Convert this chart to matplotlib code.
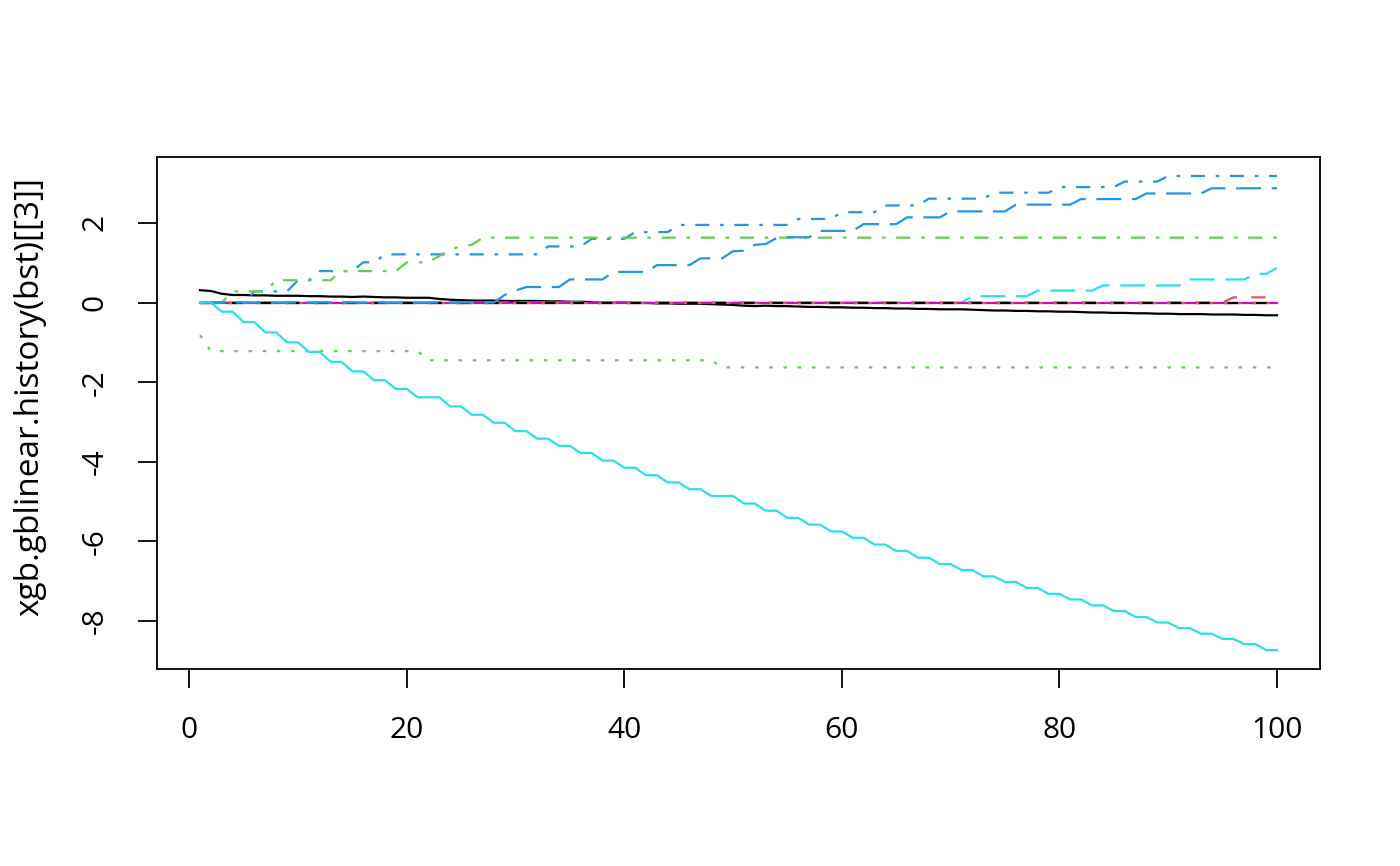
import matplotlib
matplotlib.use("Agg")
import matplotlib.pyplot as plt
import numpy as np

plt.rcParams['font.family'] = ['Open Sans', 'DejaVu Sans']
plt.rcParams['axes.unicode_minus'] = False

# iteration index
iters = list(range(1, 101))

# coefficient history, one list per column
col1 = [0.31, 0.29, 0.22, 0.19, 0.19, 0.18, 0.18, 0.17, 0.17, 0.17,
        0.16, 0.16, 0.15, 0.15, 0.14, 0.15, 0.14, 0.13, 0.13, 0.12,
        0.12, 0.12, 0.09, 0.07, 0.06, 0.05, 0.05, 0.05, 0.04, 0.04,
        0.04, 0.04, 0.03, 0.03, 0.02, 0.02, 0.01, 0.01, 0.00, 0.00,
        -0.01, -0.01, -0.02, -0.02, -0.03, -0.03, -0.03, -0.04, -0.05, -0.06,
        -0.08, -0.09, -0.08, -0.09, -0.09, -0.10, -0.11, -0.11, -0.12, -0.12,
        -0.13, -0.13, -0.14, -0.14, -0.15, -0.15, -0.16, -0.16, -0.17, -0.17,
        -0.17, -0.18, -0.19, -0.20, -0.20, -0.21, -0.21, -0.22, -0.22, -0.23,
        -0.23, -0.24, -0.25, -0.25, -0.26, -0.26, -0.27, -0.27, -0.28, -0.28,
        -0.29, -0.29, -0.29, -0.30, -0.30, -0.30, -0.31, -0.31, -0.32, -0.32]

col2 = [0.00, 0.00, 0.00, 0.00, 0.00, 0.00, 0.00, 0.00, 0.00, 0.00,
        0.00, 0.00, 0.00, 0.00, 0.00, 0.00, 0.00, 0.00, 0.00, 0.00,
        0.00, 0.00, 0.00, 0.00, 0.00, 0.00, 0.00, 0.00, 0.00, 0.00,
        0.00, 0.00, 0.00, 0.00, 0.00, 0.00, 0.00, 0.00, 0.00, 0.00,
        0.00, 0.00, 0.00, 0.00, 0.00, 0.00, 0.00, 0.00, 0.00, 0.00,
        0.00, 0.00, 0.00, 0.00, 0.00, 0.00, 0.00, 0.00, 0.00, 0.00,
        0.00, 0.00, 0.00, 0.00, 0.00, 0.00, 0.00, 0.00, 0.00, 0.00,
        0.00, 0.00, 0.00, 0.00, 0.00, 0.00, 0.00, 0.00, 0.00, 0.00,
        0.00, 0.00, 0.00, 0.00, 0.00, 0.00, 0.00, 0.00, 0.00, 0.00,
        0.00, 0.00, 0.00, 0.00, 0.00, 0.13, 0.13, 0.13, 0.13, 0.13]

col3 = [-0.82, -1.22, -1.22, -1.22, -1.22, -1.22, -1.22, -1.22, -1.22, -1.22,
        -1.22, -1.22, -1.22, -1.22, -1.22, -1.22, -1.22, -1.22, -1.22, -1.22,
        -1.22, -1.45, -1.45, -1.45, -1.45, -1.45, -1.45, -1.45, -1.45, -1.45,
        -1.45, -1.45, -1.45, -1.45, -1.45, -1.45, -1.45, -1.45, -1.45, -1.45,
        -1.45, -1.45, -1.45, -1.45, -1.45, -1.45, -1.45, -1.45, -1.63, -1.63,
        -1.63, -1.63, -1.63, -1.63, -1.63, -1.63, -1.63, -1.63, -1.63, -1.63,
        -1.63, -1.63, -1.63, -1.63, -1.63, -1.63, -1.63, -1.63, -1.63, -1.63,
        -1.63, -1.63, -1.63, -1.63, -1.63, -1.63, -1.63, -1.63, -1.63, -1.63,
        -1.63, -1.63, -1.63, -1.63, -1.63, -1.63, -1.63, -1.63, -1.63, -1.63,
        -1.63, -1.63, -1.63, -1.63, -1.63, -1.63, -1.63, -1.63, -1.63, -1.63]

col4 = [0.00, 0.00, 0.00, 0.00, 0.00, 0.28, 0.28, 0.28, 0.28, 0.56,
        0.56, 0.79, 0.79, 0.79, 0.79, 1.01, 1.01, 1.21, 1.21, 1.21,
        1.21, 1.21, 1.21, 1.21, 1.21, 1.21, 1.21, 1.21, 1.21, 1.21,
        1.21, 1.21, 1.41, 1.41, 1.41, 1.41, 1.60, 1.60, 1.60, 1.60,
        1.77, 1.77, 1.77, 1.77, 1.95, 1.95, 1.95, 1.95, 1.95, 1.95,
        1.95, 1.95, 1.95, 1.95, 1.95, 2.10, 2.10, 2.10, 2.10, 2.27,
        2.27, 2.27, 2.27, 2.44, 2.44, 2.44, 2.44, 2.61, 2.61, 2.61,
        2.61, 2.61, 2.61, 2.76, 2.76, 2.76, 2.76, 2.76, 2.76, 2.90,
        2.90, 2.90, 2.90, 2.90, 2.90, 3.04, 3.04, 3.04, 3.04, 3.18,
        3.18, 3.18, 3.18, 3.18, 3.18, 3.18, 3.18, 3.18, 3.18, 3.18]

col5 = [0.00, 0.00, 0.00, 0.00, 0.00, 0.00, 0.00, 0.00, 0.00, 0.00,
        0.00, 0.00, 0.00, 0.00, 0.00, 0.00, 0.00, 0.00, 0.00, 0.00,
        0.00, 0.00, 0.00, 0.00, 0.00, 0.00, 0.00, 0.00, 0.00, 0.00,
        0.00, 0.00, 0.00, 0.00, 0.00, 0.00, 0.00, 0.00, 0.00, 0.00,
        0.00, 0.00, 0.00, 0.00, 0.00, 0.00, 0.00, 0.00, 0.00, 0.00,
        0.00, 0.00, 0.00, 0.00, 0.00, 0.00, 0.00, 0.00, 0.00, 0.00,
        0.00, 0.00, 0.00, 0.00, 0.00, 0.00, 0.00, 0.00, 0.00, 0.00,
        0.00, 0.16, 0.16, 0.16, 0.16, 0.16, 0.16, 0.30, 0.30, 0.30,
        0.30, 0.30, 0.30, 0.43, 0.43, 0.43, 0.43, 0.43, 0.43, 0.43,
        0.43, 0.58, 0.58, 0.58, 0.58, 0.58, 0.58, 0.72, 0.72, 0.87]

col6 = [0.0] * 100
col7 = [0.0] * 100
col8 = [0.0] * 100

col9 = [0.00, 0.00, 0.00, 0.28, 0.28, 0.28, 0.28, 0.56, 0.56, 0.56,
        0.56, 0.56, 0.56, 0.79, 0.79, 0.79, 0.79, 0.79, 0.79, 1.01,
        1.01, 1.01, 1.17, 1.33, 1.41, 1.45, 1.63, 1.63, 1.63, 1.63,
        1.63, 1.63, 1.63, 1.63, 1.63, 1.63, 1.63, 1.63, 1.63, 1.63,
        1.63, 1.63, 1.63, 1.63, 1.63, 1.63, 1.63, 1.63, 1.63, 1.63,
        1.63, 1.63, 1.63, 1.63, 1.63, 1.63, 1.63, 1.63, 1.63, 1.63,
        1.63, 1.63, 1.63, 1.63, 1.63, 1.63, 1.63, 1.63, 1.63, 1.63,
        1.63, 1.63, 1.63, 1.63, 1.63, 1.63, 1.63, 1.63, 1.63, 1.63,
        1.63, 1.63, 1.63, 1.63, 1.63, 1.63, 1.63, 1.63, 1.63, 1.63,
        1.63, 1.63, 1.63, 1.63, 1.63, 1.63, 1.63, 1.63, 1.63, 1.63]

col10 = [0.00, 0.00, 0.00, 0.00, 0.00, 0.00, 0.00, 0.00, 0.00, 0.00,
         0.00, 0.00, 0.00, 0.00, 0.00, 0.00, 0.00, 0.00, 0.00, 0.00,
         0.00, 0.00, 0.00, 0.00, 0.00, 0.00, 0.00, 0.00, 0.19, 0.30,
         0.39, 0.39, 0.39, 0.39, 0.58, 0.58, 0.58, 0.58, 0.77, 0.77,
         0.77, 0.77, 0.94, 0.94, 0.94, 0.94, 1.11, 1.11, 1.11, 1.29,
         1.30, 1.45, 1.47, 1.62, 1.64, 1.64, 1.64, 1.80, 1.80, 1.80,
         1.80, 1.97, 1.97, 1.97, 1.97, 2.14, 2.14, 2.14, 2.14, 2.29,
         2.29, 2.29, 2.29, 2.29, 2.29, 2.46, 2.46, 2.46, 2.46, 2.46,
         2.46, 2.60, 2.60, 2.60, 2.60, 2.60, 2.60, 2.74, 2.74, 2.74,
         2.74, 2.74, 2.74, 2.87, 2.87, 2.87, 2.87, 2.87, 2.87, 2.87]

col11 = [0.00, 0.00, -0.23, -0.23, -0.49, -0.49, -0.75, -0.75, -1.00, -1.00,
         -1.24, -1.24, -1.49, -1.49, -1.73, -1.73, -1.95, -1.95, -2.17, -2.17,
         -2.38, -2.38, -2.38, -2.61, -2.61, -2.82, -2.82, -3.02, -3.02, -3.23,
         -3.23, -3.42, -3.42, -3.60, -3.60, -3.78, -3.78, -3.97, -3.97, -4.15,
         -4.15, -4.34, -4.34, -4.52, -4.52, -4.69, -4.69, -4.86, -4.86, -4.86,
         -5.05, -5.05, -5.23, -5.23, -5.41, -5.41, -5.58, -5.58, -5.75, -5.75,
         -5.91, -5.91, -6.08, -6.08, -6.24, -6.24, -6.41, -6.41, -6.57, -6.57,
         -6.72, -6.72, -6.88, -6.88, -7.02, -7.02, -7.17, -7.17, -7.32, -7.32,
         -7.46, -7.46, -7.61, -7.61, -7.75, -7.75, -7.90, -7.90, -8.04, -8.04,
         -8.18, -8.18, -8.32, -8.32, -8.45, -8.45, -8.58, -8.58, -8.73, -8.73]

columns = [col1, col2, col3, col4, col5, col6, col7, col8, col9, col10, col11]

# R default palette and line types, recycled like matplot does
palette = ['black', '#DF536B', '#61D04F', '#2297E6', '#28E2E5', '#CD0BBC']
u = 1.6
ltys = ['-', (0, (4 * u, 4 * u)), (0, (1 * u, 3 * u)),
        (0, (1 * u, 3 * u, 4 * u, 3 * u)), (0, (7 * u, 3 * u))]

fig = plt.figure(figsize=(14, 8.66), dpi=100)
ax = fig.add_axes([0.1121, 0.2275, 0.8308, 0.5912])

for i, ys in enumerate(columns):
    ax.plot(iters, ys, color=palette[i % 6], linestyle=ltys[i % 5], linewidth=1.6)

ax.margins(x=0.04, y=0.04)
ax.set_xticks([0, 20, 40, 60, 80, 100])
ax.set_yticks([-8, -6, -4, -2, 0, 2])

for s in ax.spines.values():
    s.set_linewidth(1.3)
ax.tick_params(direction='out', length=14, width=1.3, labelsize=21.5, pad=20)
plt.setp(ax.get_yticklabels(), rotation=90, va='center')

fig.text(30 / 1400, 1 - 396 / 866, 'xgb.gblinear.history(bst)[[3]]',
         rotation=90, ha='center', va='center', fontsize=24)

fig.savefig('out.png', dpi=100)
